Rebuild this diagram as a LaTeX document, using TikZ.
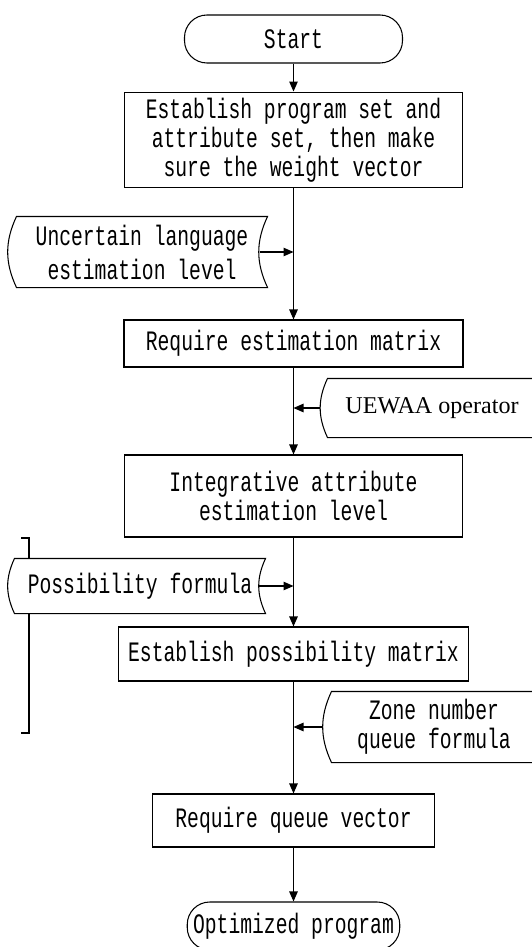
\documentclass[tikz,border=0pt]{standalone}
\usepackage{fontspec}
\setmainfont{Liberation Mono}[FakeStretch=0.7]
\newfontfamily\serifrm{Liberation Serif}
\usetikzlibrary{arrows.meta,positioning}
\tikzset{
    term/.style={
           rectangle, rounded corners=0.45cm,
           draw=black,
           minimum height=0.96cm,
           text centered,
           font=\fontsize{16}{16.5}\selectfont
           },
    proc/.style={
           rectangle,
           draw=black,
           align=center,
           font=\fontsize{16}{16.5}\selectfont
           },
    tape/.style={
           rectangle,
           fill=white,
           inner sep=0pt,
           align=center,
           font=\fontsize{16}{16.5}\selectfont
           }
}
% optional argument: how far the right side runs past the node
\newcommand{\tapeline}[2][0mm]{%
  \draw (#2.north west) to[bend right=25] (#2.south west)
    -- ([xshift=#1]#2.south east) to[bend left=25] ([xshift=#1]#2.north east) -- cycle;}

\begin{document}
\begin{tikzpicture}[>={Triangle[length=2mm,width=1.7mm]}, line width=0.6pt, on grid]
\useasboundingbox (0,0) rectangle (10.62,-18.94);
   \draw (0.42,-10.76) -- (0.58,-10.76) -- (0.58,-14.66) -- (0.42,-14.66);
   \node[term, minimum width=4.36cm] (start) at (5.87,-0.78) {Start};
   \node[proc, minimum width=6.76cm, minimum height=1.76cm] (est)[below=2.02cm of start]
        {Establish program set and\\attribute set, then make\\sure the weight vector};
   \node[tape, minimum width=5cm, minimum height=1.4cm, font=\fontsize{16}{19.4}\selectfont]
        (unc)[below left=2.24cm and 3.03cm of est] {Uncertain language\\estimation level};
   \node[proc, minimum width=6.78cm, minimum height=0.94cm] (reqm)[below=4.07cm of est]
        {Require estimation matrix};
   \node[tape, minimum width=4.16cm, minimum height=1.16cm, font=\serifrm\fontsize{13.7}{16}\selectfont]
        (uewaa)[below right=1.29cm and 2.77cm of reqm] {UEWAA operator};
   \node[proc, minimum width=6.76cm, minimum height=1.64cm] (integ)[below=3.05cm of reqm]
        {Integrative attribute\\estimation level};
   \node[tape, minimum width=5cm, minimum height=1.08cm]
        (poss)[below left=1.8cm and 3.07cm of integ] {Possibility formula};
   \node[proc, minimum width=7cm, minimum height=1.08cm] (espm)[below=3.16cm of integ]
        {Establish possibility matrix};
   \node[tape, minimum width=4.08cm, minimum height=1.4cm]
        (zone)[below right=1.46cm and 2.81cm of espm] {Zone number\\queue formula};
   \node[proc, minimum width=5.64cm, minimum height=1.06cm] (rqv)[below=3.33cm of espm]
        {Require queue vector};
   \node[term, minimum width=4.24cm] (opt)[below=2.11cm of rqv] {Optimized program};
   \tapeline{unc}
   \tapeline[5mm]{uewaa}
   \tapeline{poss}
   \tapeline[5mm]{zone}
   \path[->]
    (start) edge (est)
    (est) edge (reqm)
    (reqm) edge (integ)
    (integ) edge (espm)
    (espm) edge (rqv)
    (rqv) edge (opt);
   \draw[->] ([xshift=-1.6mm]unc.east) -- (unc -| est);
   \draw[->] ([xshift=-1.4mm]uewaa.west) -- (uewaa -| reqm);
   \draw[->] ([xshift=-1.4mm]poss.east) -- (poss -| integ);
   \draw[->] ([xshift=-1.6mm]zone.west) -- (zone -| espm);
\end{tikzpicture}
\end{document}
